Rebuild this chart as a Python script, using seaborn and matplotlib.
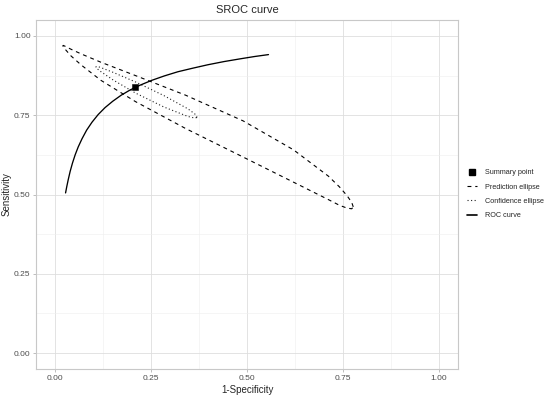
import matplotlib
matplotlib.use("Agg")
import matplotlib.pyplot as plt
from matplotlib.lines import Line2D
from matplotlib.ticker import FixedLocator
import seaborn as sns

# SROC curve (x = 1-specificity, y = sensitivity)
roc_fpr = [0.027, 0.030, 0.034, 0.039, 0.045, 0.052, 0.060, 0.070, 0.082, 0.096,
           0.112, 0.130, 0.150, 0.172, 0.196, 0.222, 0.252, 0.285, 0.320, 0.358,
           0.398, 0.440, 0.484, 0.520, 0.556]
roc_sens = [0.505, 0.524, 0.547, 0.573, 0.599, 0.625, 0.650, 0.676, 0.703, 0.728,
            0.752, 0.774, 0.794, 0.813, 0.830, 0.845, 0.860, 0.874, 0.887, 0.898,
            0.909, 0.919, 0.928, 0.935, 0.941]

summary_fpr = [0.209]
summary_sens = [0.838]

# prediction ellipse outline
pred_fpr = [0.777, 0.773, 0.761, 0.741, 0.712, 0.621, 0.490, 0.340, 0.209, 0.119,
            0.068, 0.041, 0.028, 0.021, 0.020, 0.021, 0.028, 0.041, 0.068, 0.119,
            0.209, 0.340, 0.490, 0.621, 0.712, 0.741, 0.761, 0.773, 0.777]
pred_sens = [0.461, 0.475, 0.496, 0.524, 0.558, 0.641, 0.732, 0.813, 0.875, 0.917,
             0.943, 0.958, 0.966, 0.970, 0.969, 0.965, 0.955, 0.937, 0.908, 0.860,
             0.793, 0.708, 0.618, 0.539, 0.484, 0.466, 0.457, 0.455, 0.461]

# confidence ellipse outline
conf_fpr = [0.370, 0.364, 0.346, 0.283, 0.209, 0.151, 0.117, 0.109, 0.106, 0.109,
            0.117, 0.151, 0.209, 0.283, 0.346, 0.364, 0.370]
conf_sens = [0.743, 0.754, 0.770, 0.812, 0.855, 0.885, 0.901, 0.904, 0.902, 0.897,
             0.889, 0.861, 0.820, 0.776, 0.746, 0.741, 0.743]

ticks = [0.00, 0.25, 0.50, 0.75, 1.00]
tick_labels = ["0.00", "0.25", "0.50", "0.75", "1.00"]
minor_ticks = [0.125, 0.375, 0.625, 0.875]

legend_labels = ["Summary point", "Prediction ellipse", "Confidence ellipse", "ROC curve"]

sns.set_theme(style="white")
plt.rcParams["font.family"] = ["Liberation Sans", "DejaVu Sans"]

fig = plt.figure(figsize=(5.5, 3.98), dpi=100)
ax = fig.add_axes([0.0655, 0.0729, 0.7672, 0.8768])

dashed = (0, (3.5, 3.5))
dotted = (0, (1, 2.2))

sns.lineplot(x=pred_fpr, y=pred_sens, sort=False, estimator=None, ax=ax,
             color="black", lw=0.8, linestyle=dashed)
sns.lineplot(x=conf_fpr, y=conf_sens, sort=False, estimator=None, ax=ax,
             color="#222222", lw=0.8, linestyle=dotted)
sns.lineplot(x=roc_fpr, y=roc_sens, sort=False, estimator=None, ax=ax,
             color="black", lw=0.95)
sns.scatterplot(x=summary_fpr, y=summary_sens, ax=ax, marker="s", s=22,
                color="black", edgecolor="black", zorder=5)

ax.set_xlim(-0.05, 1.05)
ax.set_ylim(-0.05, 1.05)
ax.xaxis.set_major_locator(FixedLocator(ticks))
ax.yaxis.set_major_locator(FixedLocator(ticks))
ax.set_xticklabels(tick_labels)
ax.set_yticklabels(tick_labels)
ax.xaxis.set_minor_locator(FixedLocator(minor_ticks))
ax.yaxis.set_minor_locator(FixedLocator(minor_ticks))

ax.grid(which="major", color="#DEDEDE", lw=0.6)
ax.grid(which="minor", color="#EEEEEE", lw=0.4)
ax.set_axisbelow(True)
for sp in ax.spines.values():
    sp.set_color("#C8C8C8")
    sp.set_linewidth(0.8)

ax.tick_params(which="major", length=2.5, width=0.6, color="#B3B3B3",
               labelsize=6, labelcolor="#4D4D4D", pad=1.5,
               bottom=True, left=True)
ax.tick_params(which="minor", length=0)

ax.set_xlabel("1-Specificity", fontsize=7, labelpad=2.5)
ax.set_ylabel("Sensitivity", fontsize=7, labelpad=2)
ax.set_title("SROC curve", fontsize=8, pad=5)

handles = [
    Line2D([], [], marker="s", color="black", linestyle="none", markersize=4),
    Line2D([], [], color="black", lw=0.8, linestyle=dashed),
    Line2D([], [], color="#222222", lw=0.8, linestyle=dotted),
    Line2D([], [], color="black", lw=1.2),
]
fig.legend(handles, legend_labels, loc="center left", bbox_to_anchor=(0.843, 0.512),
           frameon=False, fontsize=5.2, handlelength=1.4, handletextpad=1.0,
           labelspacing=1.0, borderpad=0)

fig.savefig("out.png", dpi=100)
